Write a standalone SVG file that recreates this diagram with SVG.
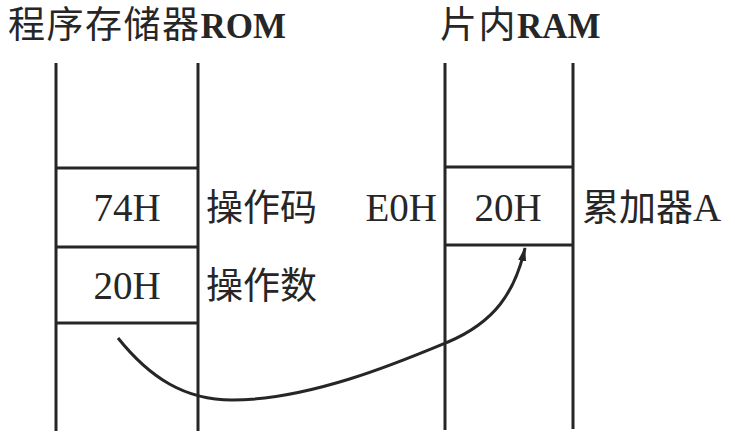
<svg xmlns="http://www.w3.org/2000/svg" width="735" height="441" viewBox="0 0 735 441">
<style>
.ln{stroke:#262626;stroke-width:3;fill:none;stroke-linecap:butt}
.t{font-family:"Liberation Serif","Noto Sans CJK SC",serif;fill:#262626;font-size:39px}
.cjk{font-family:"Noto Sans CJK SC",sans-serif;fill:#262626;font-size:37px}
.ttl{font-family:"Liberation Serif","Noto Sans CJK SC",serif;fill:#262626;font-size:35px;font-weight:bold}
.tc{font-family:"Noto Sans CJK SC",sans-serif;font-weight:normal;font-size:37px;letter-spacing:1.5px}
</style>
<defs>
<marker id="ah" viewBox="0 0 14 8" refX="13" refY="4" markerWidth="14" markerHeight="8" markerUnits="userSpaceOnUse" orient="auto">
<path d="M0,0 L14,4 L0,8 Z" fill="#262626"/>
</marker>
</defs>
<rect width="735" height="441" fill="#ffffff"/>
<g id="rom">
<text class="ttl" x="8" y="38"><tspan class="tc">程序存储器</tspan>ROM</text>
<line class="ln" x1="56" y1="63" x2="56" y2="431"/>
<line class="ln" x1="198" y1="63" x2="198" y2="431"/>
<line class="ln" x1="56" y1="168" x2="198" y2="168"/>
<line class="ln" x1="56" y1="247" x2="198" y2="247"/>
<line class="ln" x1="56" y1="323" x2="198" y2="323"/>
</g>
<g id="rom-op">
<text class="t" x="127" y="221" text-anchor="middle">74H</text>
<text class="cjk" x="206" y="221">操作码</text>
</g>
<g id="rom-data">
<text class="t" x="127" y="299" text-anchor="middle">20H</text>
<text class="cjk" x="206" y="299">操作数</text>
</g>
<g id="ram">
<text class="ttl" x="440" y="38"><tspan class="tc">片内</tspan>RAM</text>
<line class="ln" x1="445" y1="63" x2="445" y2="430"/>
<line class="ln" x1="573" y1="63" x2="573" y2="429"/>
<line class="ln" x1="445" y1="167" x2="573" y2="167"/>
<line class="ln" x1="445" y1="245" x2="573" y2="245"/>
</g>
<g id="ram-acc">
<text class="t" x="437" y="221" text-anchor="end">E0H</text>
<text class="t" x="508" y="221" text-anchor="middle">20H</text>
<text class="cjk" x="582" y="221">累加器<tspan class="t" font-size="31">A</tspan></text>
</g>
<g id="connectors">
<path class="ln" stroke-width="2.2" d="M118,338 C150,378 185,400 232,400 C310,400 400,362 448,342 C495,322 515,292 525,248" marker-end="url(#ah)"/>
</g>
</svg>
